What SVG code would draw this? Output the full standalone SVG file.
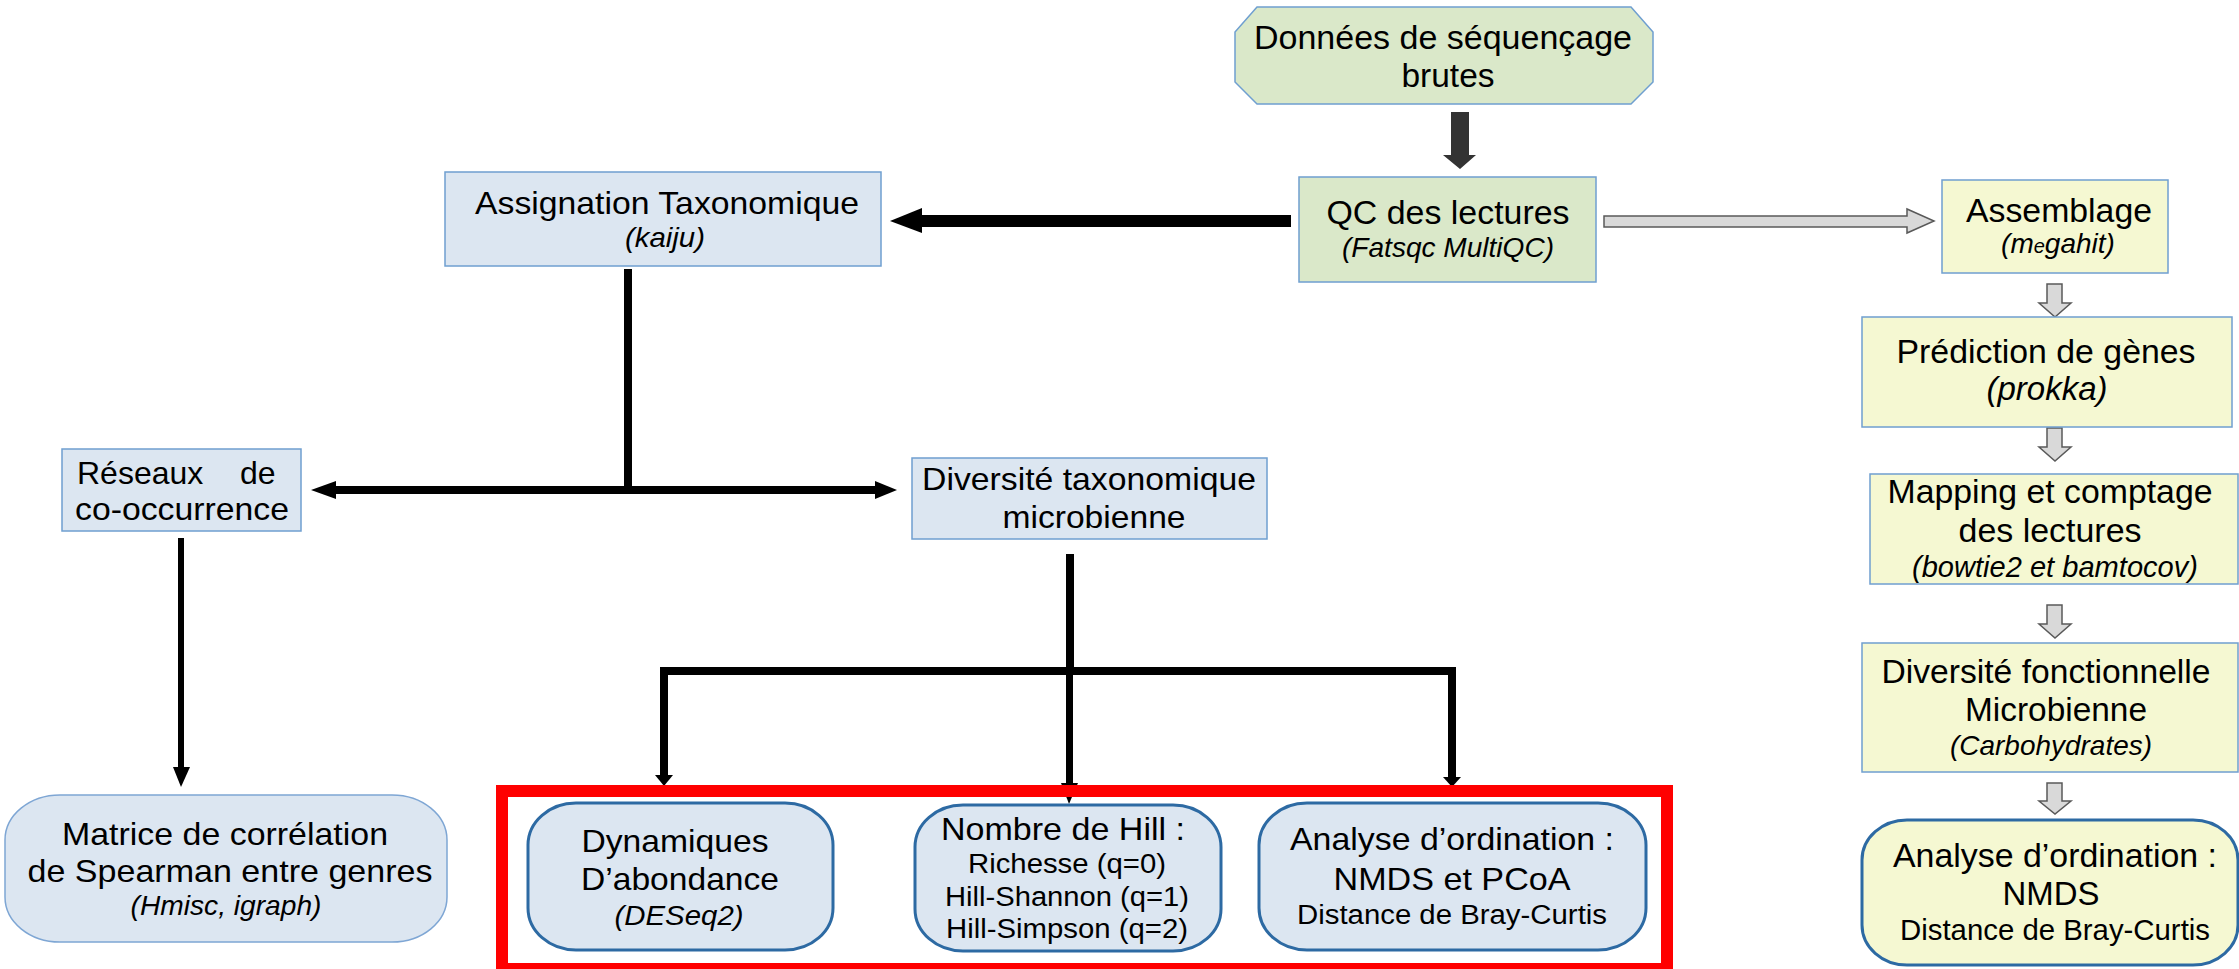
<svg xmlns="http://www.w3.org/2000/svg" width="2239" height="969" viewBox="0 0 2239 969">
<style>
text{font-family:"Liberation Sans",Arial,sans-serif;fill:#000;text-anchor:middle}
.t{font-size:32px}
.tl{font-size:34px}
.i{font-style:italic;font-size:28px}
.s{font-size:27px}
.green{fill:#dae8c9;stroke:#6f9fd0;stroke-width:1.5}
.blue{fill:#dce6f1;stroke:#6f9fd0;stroke-width:1.5}
.yellow{fill:#f5f8d2;stroke:#6f9fd0;stroke-width:1.5}
.rblue{fill:#dce6f1;stroke:#2d6aa3;stroke-width:3}
.rblue2{fill:#dce6f1;stroke:#7ea6d4;stroke-width:1.5}
.ryellow{fill:#f5f8d2;stroke:#2d6aa3;stroke-width:3}
.blk{fill:#000}
.gray{fill:#d9d9d9;stroke:#595959;stroke-width:1.5}
</style>
<g id="connectors">
  <polygon points="1451,112 1469,112 1469,155 1476,155 1460,169 1443,155 1451,155" fill="#333"/>
  <rect class="blk" x="920" y="215" width="371" height="12"/>
  <polygon class="blk" points="890,221 922,208 922,233"/>
  <polygon class="gray" points="1604,216 1907,216 1907,209 1934,221 1907,233 1907,227 1604,227"/>
  <polygon class="gray" points="2047,284 2062,284 2062,303 2071,303 2055,317 2039,303 2047,303"/>
  <polygon class="gray" points="2047,428 2062,428 2062,447 2071,447 2055,461 2039,447 2047,447"/>
  <polygon class="gray" points="2047,605 2062,605 2062,624 2071,624 2055,638 2039,624 2047,624"/>
  <polygon class="gray" points="2047,783 2062,783 2062,801 2071,801 2055,814 2039,801 2047,801"/>
  <rect class="blk" x="624" y="269" width="8" height="225"/>
  <rect class="blk" x="334" y="486" width="543" height="8"/>
  <polygon class="blk" points="311,490 336,481 336,499"/>
  <polygon class="blk" points="897,490 875,481 875,499"/>
  <rect class="blk" x="178" y="538" width="6" height="232"/>
  <polygon class="blk" points="173,767 190,767 181,787"/>
  <rect class="blk" x="1066" y="554" width="8" height="121"/>
  <rect class="blk" x="660" y="667" width="796" height="8"/>
  <rect class="blk" x="660" y="667" width="8" height="110"/>
  <polygon class="blk" points="655,775 673,775 664,786"/>
  <rect class="blk" x="1066" y="671" width="7" height="114"/>
  <polygon class="blk" points="1061,783 1078,783 1069,804"/>
  <rect class="blk" x="1448" y="667" width="8" height="110"/>
  <polygon class="blk" points="1443,777 1461,777 1452,787"/>
</g>
<g id="n-donnees">
  <polygon class="green" points="1257,7 1631,7 1653,32 1653,82 1631,104 1257,104 1235,82 1235,32"/>
  <text class="tl" x="1443" y="49" textLength="378" lengthAdjust="spacingAndGlyphs">Données de séquençage</text>
  <text class="tl" x="1448" y="87" textLength="93" lengthAdjust="spacingAndGlyphs">brutes</text>
</g>
<g id="n-qc">
  <rect class="green" x="1299" y="177" width="297" height="105"/>
  <text class="tl" x="1448" y="224" textLength="243" lengthAdjust="spacingAndGlyphs">QC des lectures</text>
  <text class="i" x="1448" y="257" textLength="212" lengthAdjust="spacingAndGlyphs">(Fatsqc MultiQC)</text>
</g>
<g id="n-assignation">
  <rect class="blue" x="445" y="172" width="436" height="94"/>
  <text class="t" x="667" y="214" textLength="384" lengthAdjust="spacingAndGlyphs">Assignation Taxonomique</text>
  <text class="i" x="665" y="247" textLength="80" lengthAdjust="spacingAndGlyphs">(kaiju)</text>
</g>
<g id="n-reseaux">
  <rect class="blue" x="62" y="449" width="239" height="82"/>
  <text class="t" style="text-anchor:start" y="484"><tspan x="77">Réseaux</tspan><tspan x="240">de</tspan></text>
  <text class="t" x="182" y="520" textLength="214" lengthAdjust="spacingAndGlyphs">co-occurrence</text>
</g>
<g id="n-divtax">
  <rect class="blue" x="912" y="458" width="355" height="81"/>
  <text class="t" x="1089" y="490" textLength="334" lengthAdjust="spacingAndGlyphs">Diversité taxonomique</text>
  <text class="t" x="1094" y="528" textLength="183" lengthAdjust="spacingAndGlyphs">microbienne</text>
</g>
<g id="n-matrice">
  <rect class="rblue2" x="5" y="795" width="442" height="147" rx="55" ry="45"/>
  <text class="t" x="225" y="845" textLength="326" lengthAdjust="spacingAndGlyphs">Matrice de corrélation</text>
  <text class="t" x="230" y="882" textLength="405" lengthAdjust="spacingAndGlyphs">de Spearman entre genres</text>
  <text class="i" x="226" y="915" textLength="191" lengthAdjust="spacingAndGlyphs">(Hmisc, igraph)</text>
</g>
<g id="n-dynamiques">
  <rect class="rblue" x="528" y="803" width="305" height="147" rx="48" ry="42"/>
  <text class="t" x="675" y="852" textLength="187" lengthAdjust="spacingAndGlyphs">Dynamiques</text>
  <text class="t" x="680" y="890" textLength="198" lengthAdjust="spacingAndGlyphs">D’abondance</text>
  <text class="i" x="679" y="925" textLength="129" lengthAdjust="spacingAndGlyphs">(DESeq2)</text>
</g>
<g id="n-hill">
  <rect class="rblue" x="915" y="805" width="306" height="146" rx="48" ry="42"/>
  <text class="t" x="1063" y="840" textLength="244" lengthAdjust="spacingAndGlyphs">Nombre de Hill :</text>
  <text class="s" x="1067" y="873" textLength="198" lengthAdjust="spacingAndGlyphs">Richesse (q=0)</text>
  <text class="s" x="1067" y="906" textLength="244" lengthAdjust="spacingAndGlyphs">Hill-Shannon (q=1)</text>
  <text class="s" x="1067" y="938" textLength="242" lengthAdjust="spacingAndGlyphs">Hill-Simpson (q=2)</text>
</g>
<g id="n-ordination">
  <rect class="rblue" x="1259" y="803" width="387" height="147" rx="48" ry="42"/>
  <text class="t" x="1452" y="850" textLength="324" lengthAdjust="spacingAndGlyphs">Analyse d’ordination :</text>
  <text class="t" x="1452" y="890" textLength="237" lengthAdjust="spacingAndGlyphs">NMDS et PCoA</text>
  <text class="s" x="1452" y="924" textLength="310" lengthAdjust="spacingAndGlyphs">Distance de Bray-Curtis</text>
</g>
<g id="frame">
  <rect x="502" y="791" width="1165" height="178" fill="none" stroke="#ff0000" stroke-width="12"/>
</g>
<g id="n-assemblage">
  <rect class="yellow" x="1942" y="180" width="226" height="93"/>
  <text class="tl" x="2059" y="222" textLength="186" lengthAdjust="spacingAndGlyphs">Assemblage</text>
  <text class="i" x="2058" y="253">(m<tspan style="font-size:20px">e</tspan>gahit)</text>
</g>
<g id="n-prediction">
  <rect class="yellow" x="1862" y="317" width="370" height="110"/>
  <text class="tl" x="2046" y="363" textLength="299" lengthAdjust="spacingAndGlyphs">Prédiction de gènes</text>
  <text class="tl" style="font-style:italic" x="2047" y="400" textLength="121" lengthAdjust="spacingAndGlyphs">(prokka)</text>
</g>
<g id="n-mapping">
  <rect class="yellow" x="1870" y="474" width="368" height="110"/>
  <text class="tl" x="2050" y="503" textLength="325" lengthAdjust="spacingAndGlyphs">Mapping et comptage</text>
  <text class="tl" x="2050" y="542" textLength="183" lengthAdjust="spacingAndGlyphs">des lectures</text>
  <text class="i" style="font-size:29px" x="2055" y="577" textLength="286" lengthAdjust="spacingAndGlyphs">(bowtie2 et bamtocov)</text>
</g>
<g id="n-divfonct">
  <rect class="yellow" x="1862" y="643" width="376" height="129"/>
  <text class="tl" x="2046" y="683" textLength="329" lengthAdjust="spacingAndGlyphs">Diversité fonctionnelle</text>
  <text class="tl" x="2056" y="721" textLength="182" lengthAdjust="spacingAndGlyphs">Microbienne</text>
  <text class="i" x="2051" y="755" textLength="202" lengthAdjust="spacingAndGlyphs">(Carbohydrates)</text>
</g>
<g id="n-ordination2">
  <rect class="ryellow" x="1862" y="820" width="376" height="145" rx="45" ry="40"/>
  <text class="tl" x="2055" y="867" textLength="324" lengthAdjust="spacingAndGlyphs">Analyse d’ordination :</text>
  <text class="tl" x="2051" y="905" textLength="97" lengthAdjust="spacingAndGlyphs">NMDS</text>
  <text class="i" style="font-size:29px;font-style:normal" x="2055" y="940" textLength="310" lengthAdjust="spacingAndGlyphs">Distance de Bray-Curtis</text>
</g>
</svg>
